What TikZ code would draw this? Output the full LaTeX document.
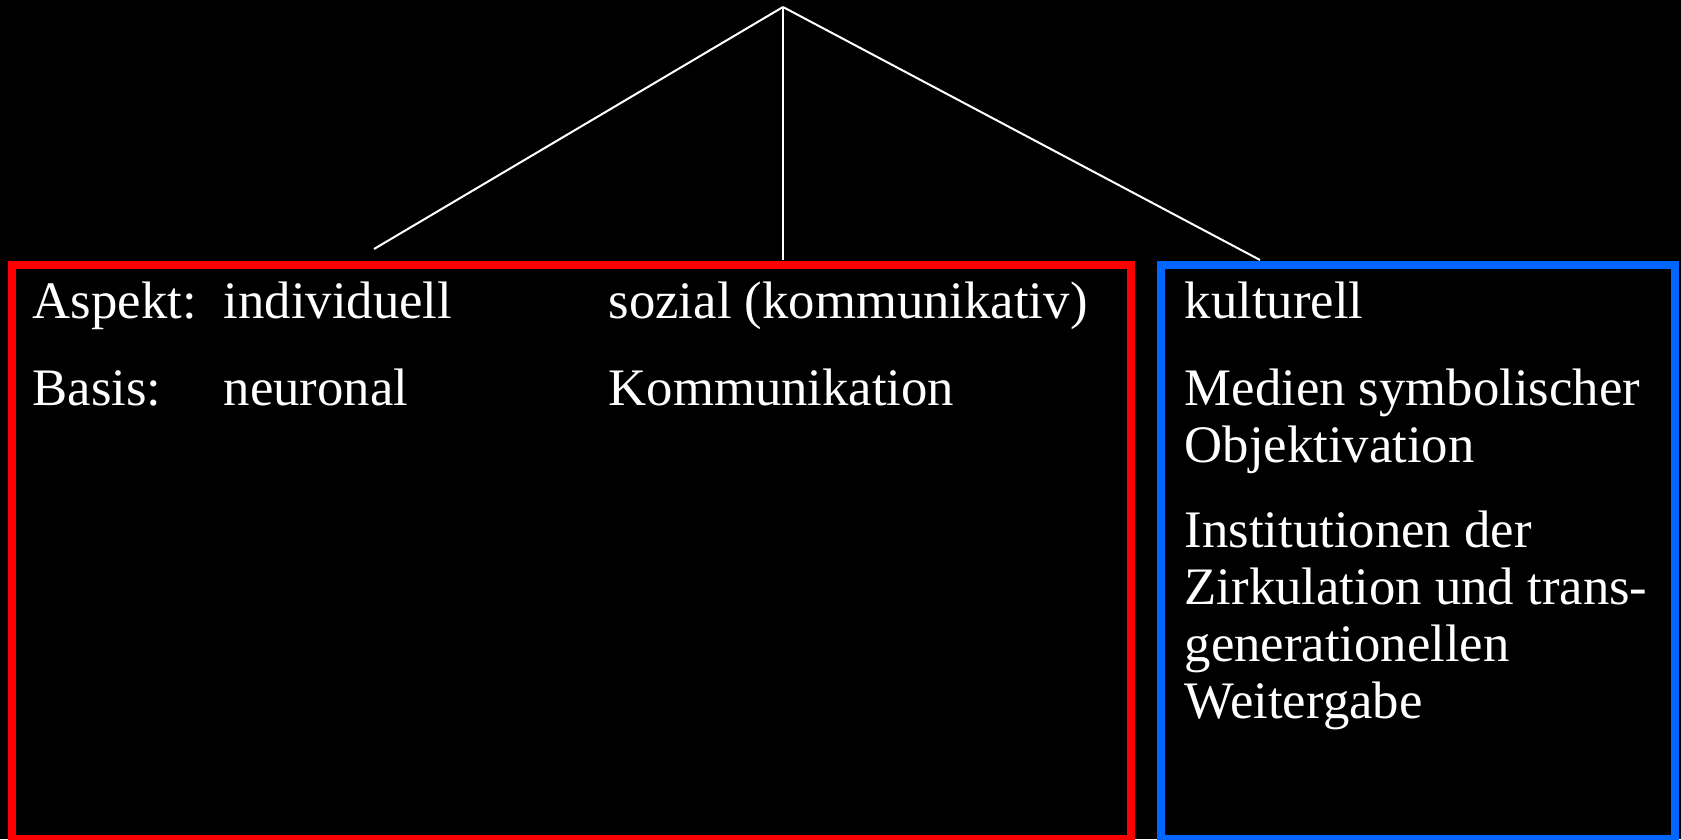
\documentclass[tikz,border=0pt]{standalone}
\usepackage{fontspec}
\setmainfont{Liberation Serif}
\definecolor{redframe}{rgb}{1,0,0}
\definecolor{blueframe}{rgb}{0,0.4,1}

\begin{document}
\begin{tikzpicture}[
  every node/.style={text=white, inner sep=0pt, anchor=base west,
    font=\fontsize{15}{16.2}\selectfont},
  frame/.style={line width=2.28pt}]

\fill[black] (0,0) rectangle (16.81,8.39);
\useasboundingbox (0,0) rectangle (16.81,8.39);

% branching lines
\coordinate (apex) at (7.83,8.32);
\coordinate (indiv) at (3.74,5.90);
\coordinate (sozial) at (7.83,5.79);
\coordinate (kultur) at (12.60,5.79);
\begin{scope}[white, line width=0.57pt]
\draw (apex) -- (indiv);
\draw (apex) -- (sozial);
\draw (apex) -- (kultur);
\end{scope}

\begin{scope}[frame]
\draw[redframe] (0.12,0) rectangle (11.31,5.745);
\draw[blueframe] (11.61,0) rectangle (16.75,5.745);
\end{scope}

\node (aspekt) at (0.32,5.21) {Aspekt:};
\node (indivtxt) at (2.23,5.21) {individuell};
\node (soztxt) at (6.08,5.21) {sozial (kommunikativ)};
\node (basis) at (0.32,4.34) {Basis:};
\node (neuro) at (2.23,4.34) {neuronal};
\node (komm) at (6.08,4.34) {Kommunikation};

% multi-line nodes: base = last line
\node (kult) at (11.84,5.21) {kulturell};
\node[align=left] (medien) at (11.84,3.77) {Medien symbolischer\\Objektivation};
\node[align=left] (inst) at (11.84,1.21)
  {Institutionen der\\Zirkulation und trans-\\generationellen\\Weitergabe};
\end{tikzpicture}
\end{document}
